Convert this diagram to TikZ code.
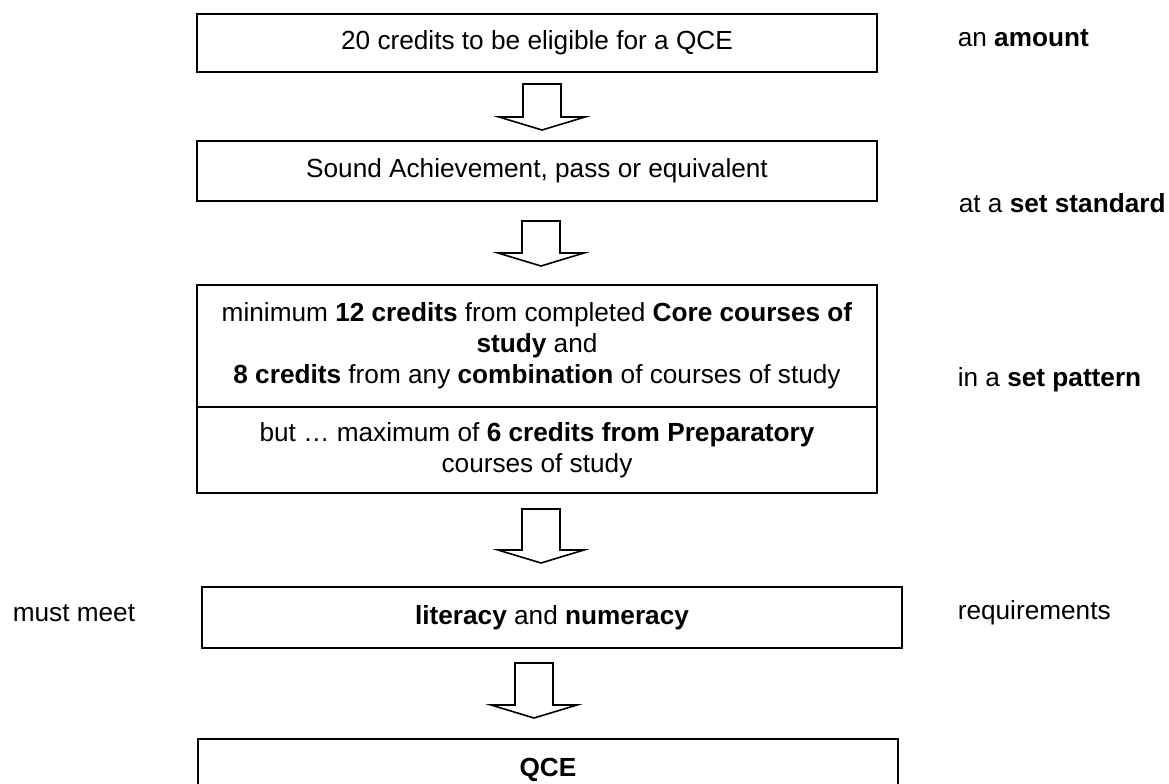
\documentclass[tikz,border=0pt]{standalone}
\usepackage{fontspec}
\setmainfont{Liberation Sans}
\usetikzlibrary{calc}

\begin{document}
\begin{tikzpicture}[x=0.5pt,y=-0.5pt,thick,
    box node/.style={draw,line width=1pt,outer sep=0pt,minimum width=340pt,inner sep=0pt,align=center,font=\fontsize{13.1}{15.5}\selectfont},
    side node/.style={anchor=west,inner sep=0pt,font=\fontsize{13.1}{15.5}\selectfont},
    pics/block arrow/.style={code={
        \draw[line width=0.8pt,miter limit=20] (-19,0) -- (19,0) -- (19,#1) -- (43,#1) -- (0,#1+13) -- (-43,#1) -- (-19,#1) -- cycle;}}]
                \useasboundingbox (0,0) rectangle (1169,783);

                \node[box node,minimum height=29pt] (amount) at (537,43) {20 credits to be eligible for a QCE};
                \node[box node,minimum height=30pt] (standard) at (537,171) {Sound Achievement, pass or equivalent};
                \node[box node,minimum height=61pt] (pattern) at (537,346) {minimum \textbf{12 credits} from completed \textbf{Core courses of}\\ \textbf{study} and\\ \textbf{8 credits} from any \textbf{combination} of courses of study};
                \node[box node,minimum height=43pt,anchor=north] (prep) at (pattern.south) {but … maximum of \textbf{6 credits from Preparatory}\\ courses of study};
                \node[box node,minimum width=350pt,minimum height=30.5pt] (litnum) at (552,617.5) {\textbf{literacy} and \textbf{numeracy}};
                \node[box node,minimum width=350pt,minimum height=31pt] (qce) at (548,770) {\raisebox{3pt}{\textbf{QCE}}};

                \node[side node] (amountlbl) at (957,38) {an \textbf{amount}};
                \node[side node] (standardlbl) at (958,203) {at a \textbf{set standard}};
                \node[side node] (patternlbl) at (957,380) {in a \textbf{set pattern}};
                \node[side node] (reqlbl) at (957,613) {requirements};
                \node[side node] (mustlbl) at (12,613) {must meet};

                \pic at ($(amount.south)+(5,12)$) {block arrow=33};
                \pic at ($(standard.south)+(4,20)$) {block arrow=32};
                \pic at ($(prep.south)+(4,16)$) {block arrow=41};
                \pic at ($(litnum.south)+(-18,15)$) {block arrow=42};
            \end{tikzpicture}
\end{document}
